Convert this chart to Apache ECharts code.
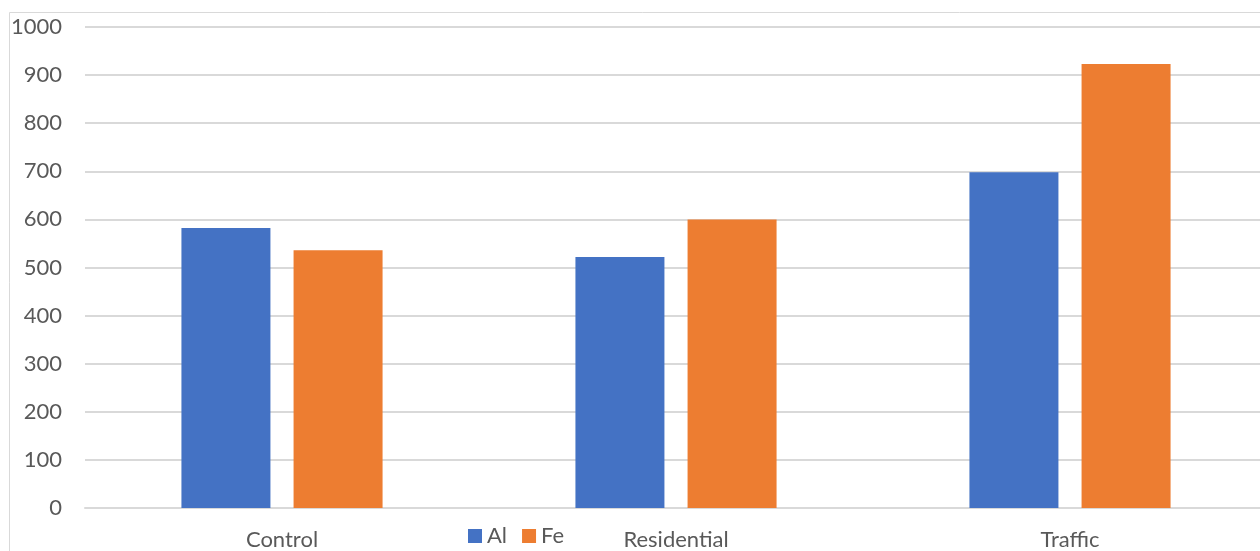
<!DOCTYPE html>
<html>
<head>
<meta charset="utf-8">
<script src="https://cdn.jsdelivr.net/npm/echarts@6/dist/echarts.min.js"></script>
<style>
html,body{margin:0;padding:0;background:#fff;overflow:hidden;width:1260px;height:551px;}
#chart{width:1275px;height:551px;}
</style>
</head>
<body>
<div id="chart"></div>
<script>
const categories = ['Control', 'Residential', 'Traffic'];
const alValues = [582, 522, 698];
const feValues = [536, 600, 923];
const yTicks = [0, 100, 200, 300, 400, 500, 600, 700, 800, 900, 1000];

const chart = echarts.init(document.getElementById('chart'));
const FONT = 'Lato, "Open Sans", sans-serif';
chart.setOption({
  animation: false,
  textStyle: { fontFamily: FONT },
  graphic: [{
    type: 'rect', left: 9, top: 12, z: -10,
    shape: { width: 1300, height: 600 },
    style: { fill: '#fff', stroke: '#d9d9d9', lineWidth: 1 }
  }],
  legend: {
    data: ['Al', 'Fe'],
    left: 463, top: 520,
    itemWidth: 14, itemHeight: 14, itemGap: 15,
    icon: 'rect',
    textStyle: { fontSize: 22, color: '#595959', fontFamily: FONT }
  },
  grid: { left: 85, top: 27, width: 1182, height: 481, containLabel: false },
  xAxis: {
    type: 'category',
    data: categories,
    axisLine: { lineStyle: { color: '#d9d9d9', width: 2 } },
    axisTick: { show: false },
    axisLabel: { color: '#595959', fontSize: 22, margin: 21, fontFamily: FONT }
  },
  yAxis: {
    type: 'value',
    min: yTicks[0], max: yTicks[yTicks.length - 1], interval: 100,
    axisLine: { show: false },
    axisTick: { show: false },
    splitLine: { lineStyle: { color: '#d9d9d9', width: 2 } },
    axisLabel: { color: '#595959', fontSize: 22, margin: 23, fontFamily: FONT,
      formatter: v => String(v) }
  },
  series: [
    { name: 'Al', type: 'bar', data: alValues, barWidth: 89, barGap: '26%',
      itemStyle: { color: '#4472c4' } },
    { name: 'Fe', type: 'bar', data: feValues, barWidth: 89, barGap: '26%',
      itemStyle: { color: '#ed7d31' } }
  ]
});
</script>
</body>
</html>
